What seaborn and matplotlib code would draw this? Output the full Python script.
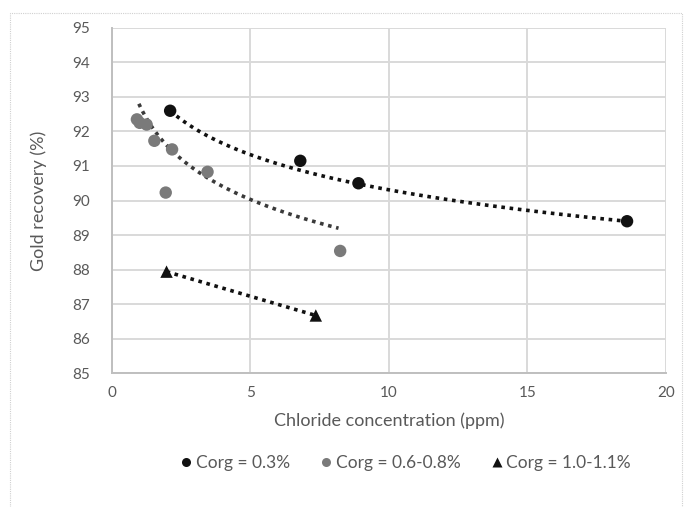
import matplotlib.pyplot as plt
import matplotlib.patches as mpatches
import seaborn as sns
import numpy as np
import pandas as pd

# chloride (ppm) and gold recovery (%) per Corg group
x_low = [2.1, 6.8, 8.9, 18.6]
y_low = [92.6, 91.15, 90.5, 89.4]

x_mid = [0.9, 1.0, 1.25, 1.53, 1.94, 2.17, 3.45, 8.24]
y_mid = [92.35, 92.25, 92.2, 91.73, 90.23, 91.48, 90.83, 88.54]

x_high = [1.97, 7.36]
y_high = [87.94, 86.67]

groups = ["Corg = 0.3%", "Corg = 0.6-0.8%", "Corg = 1.0-1.1%"]

# trendlines: y = slope * ln(x) + intercept  (log)  or slope * x + intercept (linear)
trend_kind = ["log", "log", "linear"]
trend_slope = [-1.468, -1.69, -0.2356]
trend_intercept = [93.69, 92.75, 88.404]
trend_xrange = [(2.1, 18.6), (0.97, 8.18), (1.97, 7.36)]

df = pd.concat([
    pd.DataFrame({"x": x_low, "y": y_low, "group": groups[0]}),
    pd.DataFrame({"x": x_mid, "y": y_mid, "group": groups[1]}),
    pd.DataFrame({"x": x_high, "y": y_high, "group": groups[2]}),
], ignore_index=True)

sns.set_style("white")
plt.rcParams['font.family'] = ['Lato', 'DejaVu Sans']
text_col = "#595959"

fig = plt.figure(figsize=(6.85, 5.07), dpi=100)
ax = fig.add_axes([0.1635, 0.264, 0.8085, 0.681])

trend_rows = []
for g, kind, a, b, (x0, x1) in zip(groups, trend_kind, trend_slope, trend_intercept, trend_xrange):
    xs = np.linspace(x0, x1, 100)
    ys = a * np.log(xs) + b if kind == "log" else a * xs + b
    trend_rows.append(pd.DataFrame({"x": xs, "y": ys, "group": g}))
trend = pd.concat(trend_rows, ignore_index=True)

trend_colors = {groups[0]: "#111111", groups[1]: "#3a3a3a", groups[2]: "#111111"}
sns.lineplot(data=trend, x="x", y="y", hue="group", palette=trend_colors,
             linestyle=(0, (1, 1.3)), linewidth=2.6, legend=False, ax=ax, zorder=2)

palette = {groups[0]: "#111111", groups[1]: "#7a7a7a", groups[2]: "#111111"}
markers = {groups[0]: "o", groups[1]: "o", groups[2]: "^"}
sns.scatterplot(data=df, x="x", y="y", hue="group", style="group",
                palette=palette, markers=markers, s=80, edgecolor="none",
                ax=ax, zorder=3)

ax.set_xlim(0, 20)
ax.set_ylim(85, 95)
ax.set_xticks(range(0, 21, 5))
ax.set_yticks(range(85, 96, 1))
ax.grid(True, color="#d9d9d9", linewidth=1.4)
ax.set_axisbelow(True)
for side in ["top", "right"]:
    ax.spines[side].set_visible(False)
for side in ["left", "bottom"]:
    ax.spines[side].set_color("#bfbfbf")
    ax.spines[side].set_linewidth(1.4)
ax.tick_params(axis="x", length=0, labelsize=11, labelcolor=text_col, pad=9)
ax.tick_params(axis="y", length=0, labelsize=11, labelcolor=text_col, pad=16)
ax.set_xlabel("Chloride concentration (ppm)", fontsize=13, color=text_col, labelpad=9)
ax.set_ylabel("Gold recovery (%)", fontsize=13, color=text_col, labelpad=18)

handles, labels = ax.get_legend_handles_labels()
for h in handles:
    h.set_markersize(6.5)
ax.legend(handles, labels, loc="center", bbox_to_anchor=(0.59, 0.087),
          bbox_transform=fig.transFigure, ncol=3, frameon=False,
          fontsize=12.5, labelcolor=text_col, handletextpad=0.05,
          columnspacing=1.6, handlelength=1.0)

fig.patches.append(mpatches.Rectangle((0.015, -0.01), 0.98, 0.985, transform=fig.transFigure,
                                      fill=False, edgecolor="#d0d0d0", linewidth=0.8,
                                      linestyle=(0, (1, 1))))

fig.savefig("out.png", dpi=100)
